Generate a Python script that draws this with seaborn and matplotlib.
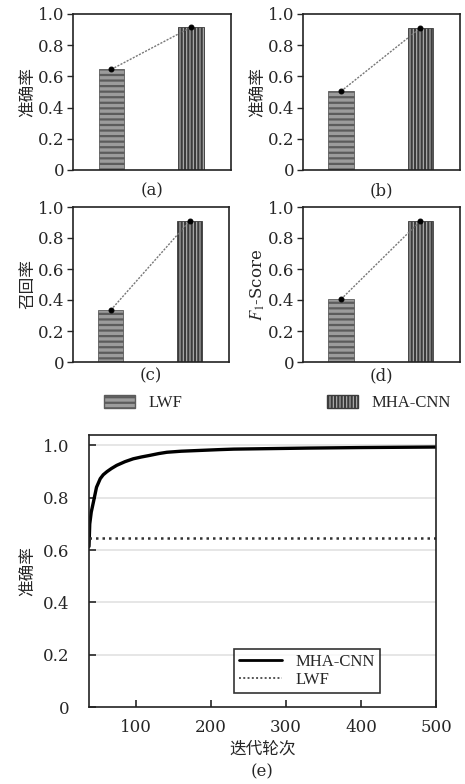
import numpy as np
import pandas as pd
import matplotlib
matplotlib.use('Agg')
import matplotlib.pyplot as plt
from matplotlib.patches import Patch
from matplotlib.lines import Line2D
import seaborn as sns

sns.set_style('ticks')
plt.rcParams['font.family'] = ['DejaVu Serif', 'Noto Sans CJK SC']
plt.rcParams['mathtext.fontset'] = 'stix'
plt.rcParams['hatch.linewidth'] = 1.6

# bar panel data
methods = ['LWF', 'MHA-CNN']
acc_a = [0.645, 0.915]
acc_b = [0.505, 0.910]
recall_c = [0.335, 0.910]
f1_d = [0.405, 0.910]
panel_labels = ['(a)', '(b)', '(c)', '(d)']
panel_ylabels = ['准确率', '准确率', '召回率', r'$F_1$-Score']

# training curve data (epoch, accuracy)
epochs = [37, 38, 40, 43, 47, 52, 56, 61, 67, 74, 85, 96, 107, 118, 130,
          141, 160, 185, 210, 230, 280, 330, 400, 450, 500]
mha_acc = [0.614, 0.70, 0.745, 0.785, 0.84, 0.873, 0.888, 0.90, 0.912, 0.924,
           0.938, 0.949, 0.956, 0.962, 0.969, 0.974, 0.978, 0.981, 0.984,
           0.986, 0.988, 0.990, 0.992, 0.993, 0.994]
lwf_acc = 0.645

yticks = [0, 0.2, 0.4, 0.6, 0.8, 1.0]
ytick_labels = ['0', '0.2', '0.4', '0.6', '0.8', '1.0']
legend_font = {'family': ['Liberation Serif'], 'size': 12}

W, H = 465, 784
fig = plt.figure(figsize=(W / 100, H / 100), dpi=100)

def px_axes(left, top, right, bottom):
    return fig.add_axes([left / W, 1 - bottom / H, (right - left) / W, (bottom - top) / H])

boxes = [(73, 14, 231, 170), (303, 14, 460, 170),
         (73, 207, 229, 362), (303, 207, 460, 362)]
label_pads = [9, 9, 4, 4]
series = [acc_a, acc_b, recall_c, f1_d]
faces = ['#9c9c9c', '#b4b4b4']
edges = ['#5c5c5c', '#3c3c3c']
hatches = ['---', '|||||']

for box, vals, lab, ylab, lp in zip(boxes, series, panel_labels, panel_ylabels, label_pads):
    ax = px_axes(*box)
    sns.barplot(x=methods, y=vals, ax=ax, width=0.32, color='#999999')
    for patch, fc, ec, h in zip(ax.patches, faces, edges, hatches):
        patch.set_facecolor(fc)
        patch.set_edgecolor(ec)
        patch.set_hatch(h)
        patch.set_linewidth(0.6)
    sns.lineplot(x=[0, 1], y=vals, ax=ax, color='#777777', linestyle=(0, (1.5, 1)),
                 linewidth=1.0, marker='o', markersize=3.5,
                 markerfacecolor='black', markeredgecolor='black')
    ax.set_xlim(-0.48, 1.5)
    ax.set_ylim(0, 1.0)
    ax.set_yticks(yticks)
    ax.set_yticklabels(ytick_labels, fontsize=12)
    ax.set_xticks([])
    ax.set_xlabel(lab, fontsize=12, labelpad=lp)
    ax.set_ylabel(ylab, fontsize=12, labelpad=1)
    ax.tick_params(axis='y', direction='out', length=4, width=1, pad=2)
    for sp in ax.spines.values():
        sp.set_visible(True)
        sp.set_color('#222222')
        sp.set_linewidth(1.2)

# legend row for bar panels
h_lwf = Patch(facecolor=faces[0], edgecolor=edges[0], hatch=hatches[0], label='LWF')
h_mha = Patch(facecolor=faces[1], edgecolor=edges[1], hatch=hatches[1], label='MHA-CNN')
for handle, xpos in [(h_lwf, 92), (h_mha, 315)]:
    fig.legend(handles=[handle], loc='center left', bbox_to_anchor=(xpos / W, 1 - 403 / H),
               frameon=False, prop=legend_font, handlelength=1.9, handleheight=0.8,
               handletextpad=0.8, borderpad=0.2)

# panel (e)
axe = px_axes(89, 435, 436, 707)
curve = pd.DataFrame({'epoch': epochs, 'acc': mha_acc})
sns.lineplot(data=curve, x='epoch', y='acc', ax=axe, color='black', linewidth=2.4)
sns.lineplot(x=[epochs[0], epochs[-1]], y=[lwf_acc, lwf_acc], ax=axe, color='#333333',
             linestyle=(0, (1, 1.6)), linewidth=1.8)
axe.set_xlim(37, 500)
axe.set_ylim(0, 1.04)
axe.set_yticks(yticks)
axe.set_yticklabels(ytick_labels, fontsize=12)
axe.set_xticks([100, 200, 300, 400, 500])
axe.set_xticklabels(['100', '200', '300', '400', '500'], fontsize=12)
for yv in yticks[1:]:
    axe.axhline(yv, color='#e2e2e2', linewidth=1.2, zorder=0)
axe.tick_params(axis='both', direction='in', length=5, width=1.2)
axe.tick_params(axis='x', pad=9)
axe.tick_params(axis='y', pad=14)
axe.set_xlabel('迭代轮次\n(e)', fontsize=12, labelpad=3, linespacing=1.45)
axe.set_ylabel('准确率', fontsize=12, labelpad=4)
for sp in axe.spines.values():
    sp.set_visible(True)
    sp.set_color('#222222')
    sp.set_linewidth(1.2)

leg_handles = [Line2D([], [], color='black', linewidth=2, label='MHA-CNN'),
               Line2D([], [], color='#555555', linestyle=(0, (1, 1.2)), linewidth=1.4, label='LWF')]
leg = axe.legend(handles=leg_handles, loc='lower left', bbox_to_anchor=(0.418, 0.051),
                 prop=legend_font, frameon=True, fancybox=False, edgecolor='black',
                 borderpad=0.3, labelspacing=0.15, handlelength=2.6, borderaxespad=0)
leg.get_frame().set_linewidth(1.2)

fig.savefig('out.png', dpi=100)
